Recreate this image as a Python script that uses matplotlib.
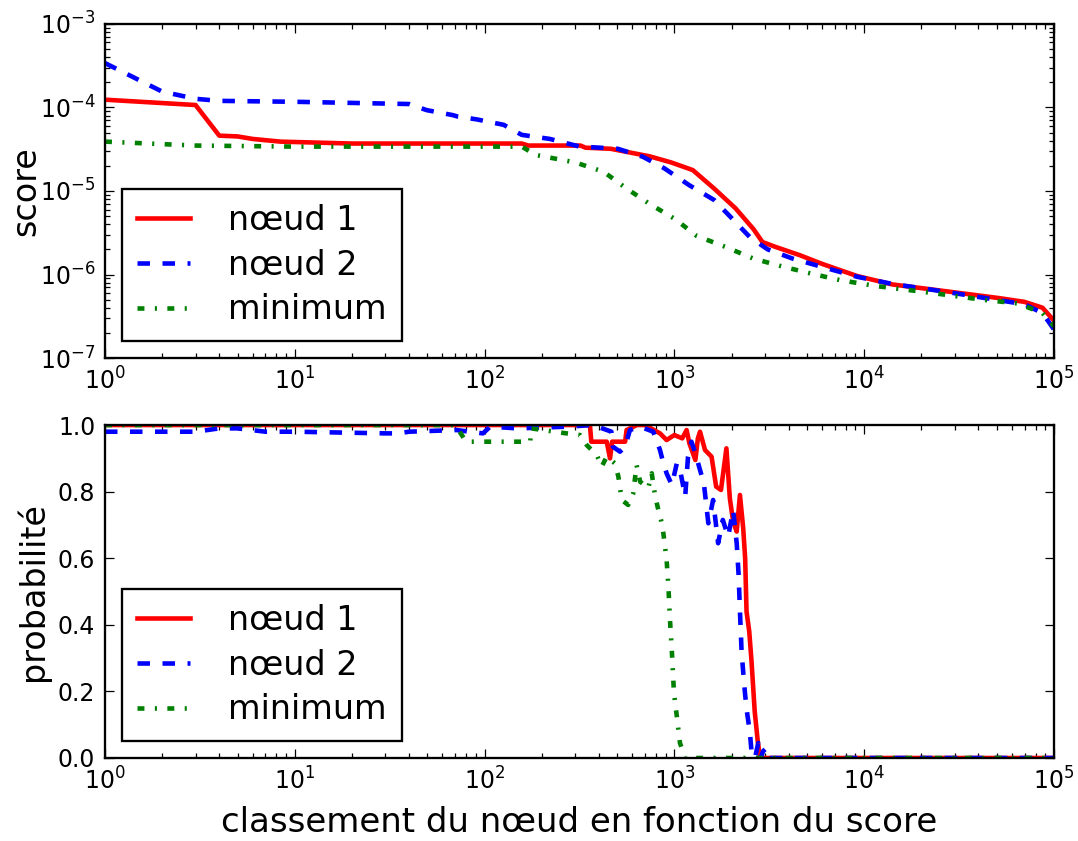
import matplotlib
matplotlib.use('Agg')
import matplotlib.pyplot as plt
from matplotlib.ticker import FormatStrFormatter

#%% Data
labels = ['nœud 1', 'nœud 2', 'minimum']

# top panel: score vs rank
score1_x = [1, 3, 4, 5, 6, 8.4, 20, 157, 170, 320, 340, 462, 741, 960, 1250, 1620,
            2100, 2610, 2910, 3390, 4590, 5950, 9160, 14100, 27000, 51900, 70000,
            87000, 100000]
score1_y = [1.24e-4, 1.07e-4, 4.6e-5, 4.5e-5, 4.2e-5, 3.9e-5, 3.7e-5, 3.7e-5, 3.5e-5,
            3.5e-5, 3.3e-5, 3.2e-5, 2.6e-5, 2.2e-5, 1.78e-5, 1.07e-5, 6.2e-6, 3.5e-6,
            2.45e-6, 2.15e-6, 1.7e-6, 1.35e-6, 9.6e-7, 7.6e-7, 6.3e-7, 5.2e-7, 4.7e-7,
            4.0e-7, 2.8e-7]

score2_x = [1, 2, 3, 4, 10, 40, 49.5, 68, 72, 91, 126, 157, 221, 317, 405, 504, 682,
            885, 1200, 1620, 2010, 2500, 3100, 4200, 5950, 9160, 14100, 27000, 51900,
            70000, 87000, 100000]
score2_y = [3.4e-4, 1.55e-4, 1.27e-4, 1.2e-4, 1.17e-4, 1.1e-4, 9.3e-5, 8.1e-5, 7.8e-5,
            7.2e-5, 6.2e-5, 4.7e-5, 4.2e-5, 3.4e-5, 3.3e-5, 3.2e-5, 2.57e-5, 1.87e-5,
            1.17e-5, 7.8e-6, 4.7e-6, 2.8e-6, 2.0e-6, 1.55e-6, 1.24e-6, 9.4e-7, 7.7e-7,
            6.2e-7, 4.9e-7, 4.4e-7, 3.45e-7, 2.2e-7]

scoremin_x = [1, 3, 10, 157, 186, 300, 424, 550, 741, 1010, 1310, 1850, 2610, 3690,
              5220, 7400, 11400, 21700, 41700, 64600, 87000, 100000]
scoremin_y = [3.9e-5, 3.5e-5, 3.4e-5, 3.4e-5, 2.7e-5, 2.2e-5, 1.7e-5, 1.1e-5, 7.0e-6,
              4.6e-6, 2.9e-6, 2.15e-6, 1.55e-6, 1.25e-6, 1.03e-6, 8.6e-7, 7.3e-7, 6.1e-7,
              5.0e-7, 4.5e-7, 3.45e-7, 2.4e-7]

# bottom panel: probability vs rank
prob1_x = [1, 359, 365, 440, 458, 470, 486, 550, 560, 635, 700, 840, 910, 1000, 1100,
           1160, 1200, 1290, 1330, 1365, 1450, 1570, 1660, 1760, 1880, 1960, 2040, 2130,
           2215, 2305, 2360, 2400, 2480, 2550, 2650, 2750, 2830, 3000, 100000]
prob1_y = [1.0, 1.0, 0.95, 0.95, 0.90, 0.95, 0.95, 0.95, 0.985, 1.0, 1.0, 0.975, 0.955,
           0.97, 0.96, 0.985, 0.945, 0.895, 0.96, 0.98, 0.925, 0.905, 0.815, 0.805, 0.93,
           0.78, 0.71, 0.68, 0.79, 0.69, 0.60, 0.44, 0.38, 0.29, 0.14, 0.05, 0.0, 0.0, 0.0]

prob2_x = [1, 3, 4, 5, 7, 10, 30, 35, 40, 71, 98, 107, 150, 270, 373, 466, 474, 517, 550,
           583, 660, 774, 840, 875, 910, 970, 1030, 1080, 1140, 1180, 1230, 1290, 1365,
           1430, 1510, 1600, 1700, 1800, 1920, 2040, 2130, 2180, 2216, 2260, 2307, 2355,
           2405, 2502, 2553, 2658, 2767, 2850, 2930, 3060, 3180, 100000]
prob2_y = [0.98, 0.98, 0.99, 0.99, 0.98, 0.98, 0.975, 0.975, 0.98, 0.985, 0.975, 0.995,
           0.99, 0.995, 1.0, 0.98, 0.935, 0.92, 0.935, 0.985, 0.995, 0.98, 0.925, 0.885,
           0.855, 0.82, 0.885, 0.855, 0.785, 0.905, 0.95, 0.915, 0.865, 0.825, 0.705,
           0.775, 0.645, 0.715, 0.665, 0.745, 0.645, 0.55, 0.44, 0.32, 0.255, 0.195,
           0.144, 0.075, 0.015, 0.0, 0.045, 0.0, 0.02, 0.03, 0.0, 0.0]

probmin_x = [1, 70, 80, 174, 176, 270, 318, 345, 390, 414, 440, 486, 507, 528, 571, 607,
             632, 660, 728, 760, 790, 823, 850, 875, 910, 930, 948, 970, 995, 1030, 1070,
             1140, 100000]
probmin_y = [1.0, 1.0, 0.95, 0.95, 0.99, 0.975, 0.97, 0.94, 0.91, 0.875, 0.905, 0.885,
             0.845, 0.775, 0.76, 0.795, 0.88, 0.83, 0.81, 0.855, 0.79, 0.745, 0.715,
             0.675, 0.595, 0.515, 0.415, 0.32, 0.195, 0.125, 0.045, 0.0, 0.0]

#%% Styles (old matplotlib look)
plt.rcParams['lines.scale_dashes'] = False
plt.rcParams['font.family'] = ['DejaVu Sans']
lw = 3.3
styles = [dict(color='r', lw=lw, linestyle='-'),
          dict(color='b', lw=lw, linestyle=(0, (9, 9))),
          dict(color='g', lw=lw, linestyle=(0, (5, 7.5, 1.5, 7.5)))]


def style_axes(ax):
    for sp in ax.spines.values():
        sp.set_linewidth(1.66)
    ax.tick_params(which='both', direction='in', top=True, right=True,
                   labelsize=17, pad=7, width=0.9)
    ax.tick_params(which='major', length=6.6)
    ax.tick_params(which='minor', length=3.3)


def add_legend(ax):
    leg = ax.legend(loc='lower left', fontsize=24, handlelength=1.6,
                    handletextpad=1.15, labelspacing=0.35, borderpad=0.45,
                    borderaxespad=0.5, fancybox=False, framealpha=1,
                    edgecolor='k')
    leg.get_frame().set_linewidth(1.66)


fig = plt.figure(figsize=(10.78, 8.41), dpi=100)
ax1 = fig.add_axes([0.0974, 0.5743, 0.8803, 0.3972])
ax2 = fig.add_axes([0.0974, 0.0987, 0.8803, 0.3959])

#%% Top: scores
for xs, ys, lab, st in zip([score1_x, score2_x, scoremin_x],
                           [score1_y, score2_y, scoremin_y], labels, styles):
    ax1.plot(xs, ys, label=lab, **st)
ax1.set_xscale('log')
ax1.set_yscale('log')
ax1.set_xlim(1, 1e5)
ax1.set_ylim(1e-7, 1e-3)
ax1.set_ylabel('score', fontsize=24)
ax1.yaxis.set_label_coords(-0.066, 0.5)
style_axes(ax1)
add_legend(ax1)

#%% Bottom: probabilities
for xs, ys, lab, st in zip([prob1_x, prob2_x, probmin_x],
                           [prob1_y, prob2_y, probmin_y], labels, styles):
    ax2.plot(xs, ys, label=lab, **st)
ax2.set_xscale('log')
ax2.set_xlim(1, 1e5)
ax2.set_ylim(0, 1.0)
ax2.set_yticks([0.0, 0.2, 0.4, 0.6, 0.8, 1.0])
ax2.yaxis.set_major_formatter(FormatStrFormatter('%.1f'))
ax2.set_ylabel('probabilité', fontsize=24)
ax2.yaxis.set_label_coords(-0.058, 0.5)
ax2.set_xlabel('classement du nœud en fonction du score', fontsize=24.5,
               labelpad=8)
style_axes(ax2)
add_legend(ax2)

fig.savefig('out.png', dpi=100, facecolor='white')
